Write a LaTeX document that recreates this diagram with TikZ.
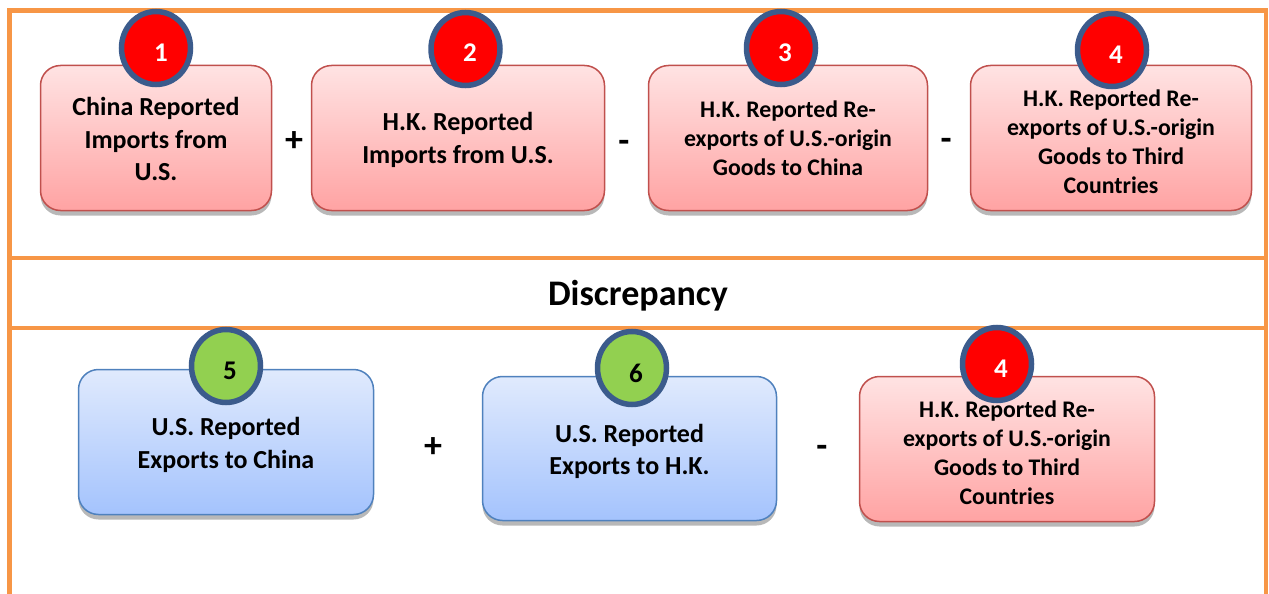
\documentclass[tikz,border=0pt]{standalone}
\usepackage{fontspec}
\setmainfont{Carlito}
\usetikzlibrary{shapes.geometric,shadows}
\definecolor{frameorange}{HTML}{F79646}
\definecolor{boxred}{HTML}{C0504D}
\definecolor{redtop}{HTML}{FFE3E3}
\definecolor{redbot}{HTML}{FFA3A3}
\definecolor{boxblue}{HTML}{4F81BD}
\definecolor{bluetop}{HTML}{E0EAFD}
\definecolor{bluebot}{HTML}{A4C3FD}
\definecolor{ballrim}{HTML}{3B5B8C}
\definecolor{ballred}{HTML}{FF0000}
\definecolor{ballgreen}{HTML}{92D050}
\tikzset{
  boxbase/.style={rounded corners=20pt, line width=1.5pt, inner sep=0pt,
    drop shadow={shadow xshift=0pt, shadow yshift=-5pt, fill=black, opacity=0.28}},
  bigtext/.style={align=center, inner sep=0pt, font=\bfseries\fontsize{26}{32.5}\selectfont},
  smalltext/.style={align=center, inner sep=0pt, font=\bfseries\fontsize{23.8}{29}\selectfont},
  redbox/.style={boxbase, draw=boxred, top color=redtop, bottom color=redbot},
  bluebox/.style={boxbase, draw=boxblue, top color=bluetop, bottom color=bluebot},
  ballbase/.style={ellipse, draw=ballrim, line width=5.5pt, minimum width=69pt, minimum height=73pt, inner sep=0pt},
  redball/.style={ballbase, fill=ballred},
  greenball/.style={ballbase, fill=ballgreen},
  balltext/.style={font=\bfseries\fontsize{27}{30}\selectfont, inner sep=0pt},
  op/.style={font=\bfseries\fontsize{36}{40}\selectfont, inner sep=0pt},
  frameline/.style={draw=frameorange, line width=4.5pt}
}
\begin{document}
\begin{tikzpicture}[x=1pt,y=-1pt]
\useasboundingbox (0,0) rectangle (1269,594);
% frame
\coordinate (tl) at (9.5,10.5);
\coordinate (tr) at (1266,10.5);
\coordinate (bl) at (9.5,594);
\coordinate (br) at (1266,594);
\coordinate (m1l) at (9.5,258);
\coordinate (m1r) at (1266,258);
\coordinate (m2l) at (9.5,328);
\coordinate (m2r) at (1266,328);
\draw[frameline] (bl) -- (tl) -- (tr) -- (br);
\draw[frameline] (m1l) -- (m1r);
\draw[frameline] (m2l) -- (m2r);
\node[font=\bfseries\fontsize{36}{40}\selectfont, inner sep=0pt] (disc) at (638,296) {Discrepancy};
% top row
\node[redbox, minimum width=231pt, minimum height=145pt] (b1) at (156,138) {};
\node[bigtext] (b1t) at ([yshift=-1pt]b1.center) {China Reported\\Imports from\\U.S.};
\node[redbox, minimum width=293pt, minimum height=145pt] (b2) at (458,138) {};
\node[bigtext] (b2t) at ([yshift=-2pt]b2.center) {H.K. Reported\\Imports from U.S.};
\node[redbox, minimum width=279pt, minimum height=145pt] (b3) at (788,138) {};
\node[smalltext] (b3t) at (b3.center) {H.K. Reported Re-\\exports of U.S.-origin\\Goods to China};
\node[redbox, minimum width=281pt, minimum height=145pt] (b4) at (1111,138) {};
\node[smalltext] (b4t) at ([yshift=-4pt]b4.center) {H.K. Reported Re-\\exports of U.S.-origin\\Goods to Third\\Countries};
\node[op] (p1) at (294,142) {+};
\node[op] (m1) at (624,146) {-};
\node[op] (m2) at (946,144) {-};
\node[redball] (c1) at (156,48) {};
\node[balltext, white] (t1) at (161,53) {1};
\node[redball] (c2) at (465.5,49) {};
\node[balltext, white] (t2) at (470,53) {2};
\node[redball] (c3) at (781,48) {};
\node[balltext, white] (t3) at (785,53) {3};
\node[redball] (c4) at (1112,50) {};
\node[balltext, white] (t4) at (1116,55) {4};
% bottom row
\node[bluebox, minimum width=295pt, minimum height=145pt] (b5) at (226,442) {};
\node[bigtext] (b5t) at ([yshift=-3pt]b5.center) {U.S. Reported\\Exports to China};
\node[bluebox, minimum width=294pt, minimum height=144pt] (b6) at (629.5,448.5) {};
\node[bigtext] (b6t) at ([yshift=-3pt]b6.center) {U.S. Reported\\Exports to H.K.};
\node[redbox, minimum width=295pt, minimum height=145pt] (b7) at (1007,449) {};
\node[smalltext] (b7t) at ([yshift=-4pt]b7.center) {H.K. Reported Re-\\exports of U.S.-origin\\Goods to Third\\Countries};
\node[op] (p2) at (433,448) {+};
\node[op] (m3) at (822,451) {-};
\node[greenball] (c5) at (226,366) {};
\node[balltext, black] (t5) at (230,371) {5};
\node[greenball] (c6) at (632,368) {};
\node[balltext, black] (t6) at (636,373) {6};
\node[redball] (c7) at (997,364) {};
\node[balltext, white] (t7) at (1001,369) {4};
\end{tikzpicture}
\end{document}
